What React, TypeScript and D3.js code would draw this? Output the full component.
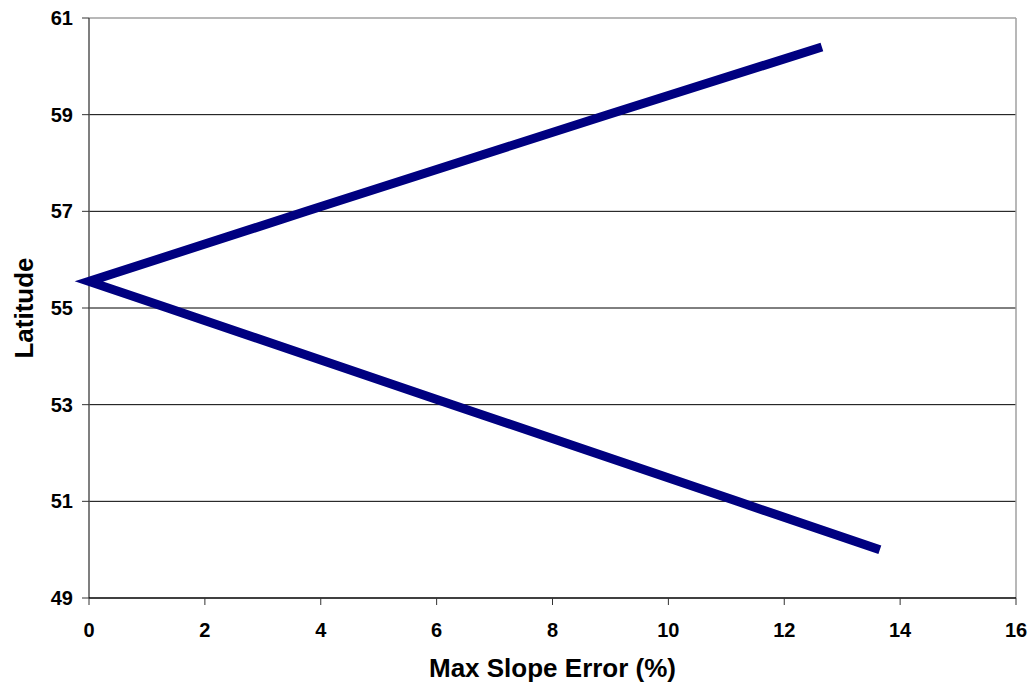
import React from "react";
import * as d3 from "d3";

// upper branch then lower branch
const slopeError = [12.65, 8.95, 3.75, 0, 1.36, 6.27, 11.19, 13.65];
const latitude = [60.4, 59, 57, 55.55, 55, 53, 51, 50.0];

const xTicks = [0, 2, 4, 6, 8, 10, 12, 14, 16];
const yTicks = [49, 51, 53, 55, 57, 59, 61];

const W = 1032;
const H = 688;
const margin = { top: 18, right: 16, bottom: 90, left: 89 };

const App = () => {
  const x = d3.scaleLinear().domain([0, 16]).range([margin.left, W - margin.right]);
  const y = d3.scaleLinear().domain([49, 61]).range([H - margin.bottom, margin.top]);

  const pts = slopeError.map((v, i) => [v, latitude[i]] as [number, number]);
  const line = d3.line<[number, number]>().x(d => x(d[0])).y(d => y(d[1]));

  const font = "'Liberation Sans', Arial, sans-serif";
  const x0 = x(0), x1 = x(16), yb = y(49), yt = y(61);

  return (
    <svg width={W} height={H} style={{ position: "absolute", left: 0, top: 0, background: "white" }}>
      {/* grid lines */}
      {yTicks.filter(t => t > 49 && t < 61).map(t => (
        <line key={t} x1={x0} x2={x1} y1={y(t)} y2={y(t)} stroke="#000" strokeWidth={1} />
      ))}
      {/* frame */}
      <line x1={x0} x2={x1} y1={yt} y2={yt} stroke="#a0a0a0" strokeWidth={1.5} />
      <line x1={x1} x2={x1} y1={yt} y2={yb} stroke="#a0a0a0" strokeWidth={1.5} />
      <line x1={x0} x2={x0} y1={yt} y2={yb} stroke="#555" strokeWidth={1.5} />
      <line x1={x0} x2={x1} y1={yb} y2={yb} stroke="#000" strokeWidth={1.5} />

      {/* y axis ticks */}
      {yTicks.map(t => (
        <g key={t}>
          <line x1={x0 - 7} x2={x0} y1={y(t)} y2={y(t)} stroke="#333" strokeWidth={1} />
          <text x={x0 - 16} y={y(t)} dy="0.35em" textAnchor="end" fontFamily={font}
            fontWeight="bold" fontSize={20} fill="#000">{t}</text>
        </g>
      ))}
      {/* x axis ticks */}
      {xTicks.map(t => (
        <g key={t}>
          <line x1={x(t)} x2={x(t)} y1={yb} y2={yb + 7} stroke="#333" strokeWidth={1} />
          <text x={x(t)} y={630} dy="0.35em" textAnchor="middle" fontFamily={font}
            fontWeight="bold" fontSize={20} fill="#000">{t}</text>
        </g>
      ))}

      {/* series */}
      <path d={line(pts) || ""} fill="none" stroke="#000080" strokeWidth={9}
        strokeLinejoin="miter" strokeLinecap="butt" />

      {/* axis titles */}
      <text x={(x0 + x1) / 2} y={668} dy="0.35em" textAnchor="middle" fontFamily={font}
        fontWeight="bold" fontSize={26} fill="#000">Max Slope Error (%)</text>
      <text transform={`translate(24,${(yt + yb) / 2}) rotate(-90)`} dy="0.35em" textAnchor="middle"
        fontFamily={font} fontWeight="bold" fontSize={26} fill="#000">Latitude</text>
    </svg>
  );
};

export default App;
